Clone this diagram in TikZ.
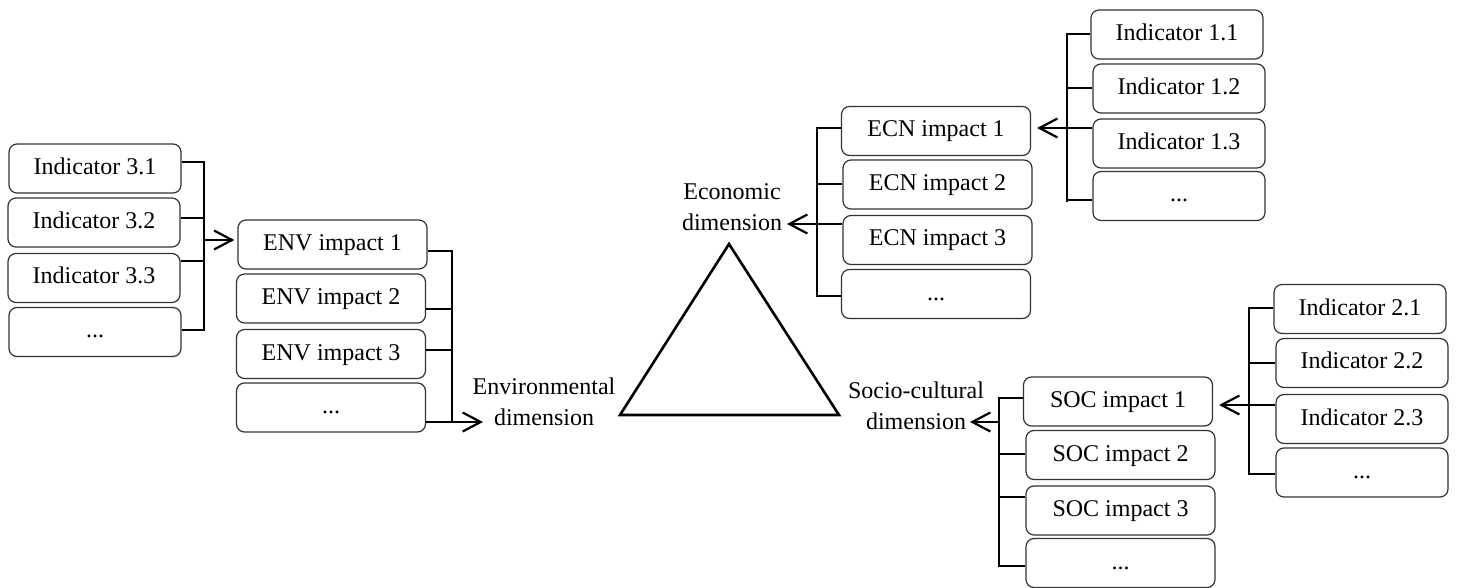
\documentclass[tikz,border=0pt]{standalone}
\usepackage{fontspec}
\setmainfont{Liberation Serif}
\usetikzlibrary{arrows.meta,calc}
\begin{document}
\begin{tikzpicture}[x=0.5pt,y=-0.5pt,
  box/.style={draw=black!80,line width=0.6pt,rounded corners=4pt,minimum height=24.5pt,inner sep=0pt,
    text height=8.5pt,text depth=2.5pt,font=\fontsize{12}{14}\selectfont},
  ind/.style={box,minimum width=86pt},
  imp/.style={box,minimum width=94.5pt},
  conn/.style={line width=1.1pt,black},
  tipconn/.style={conn,-{Straight Barb[length=9pt,width=9.5pt]}},
  dimtext/.style={align=center,font=\fontsize{12}{15.5}\selectfont,inner sep=0pt}]
\useasboundingbox (0,0) rectangle (1457,588);

% Indicators 3.x
\node[ind] (i31) at (95,168.5) {Indicator 3.1};
\node[ind] (i32) at (94,222.5) {Indicator 3.2};
\node[ind] (i33) at (94,278) {Indicator 3.3};
\node[ind] (i3d) at (95,332) {...};

% ENV impacts
\node[imp] (env1) at (332.5,244.5) {ENV impact 1};
\node[imp] (env2) at (331,298.5) {ENV impact 2};
\node[imp] (env3) at (331,354) {ENV impact 3};
\node[imp] (envd) at (331,407.5) {...};

% ECN impacts
\node[imp] (ecn1) at (936,131) {ECN impact 1};
\node[imp] (ecn2) at (937.5,184.5) {ECN impact 2};
\node[imp] (ecn3) at (937.5,240) {ECN impact 3};
\node[imp] (ecnd) at (936,294) {...};

% Indicators 1.x
\node[ind] (i11) at (1177,34.5) {Indicator 1.1};
\node[ind] (i12) at (1179,88.5) {Indicator 1.2};
\node[ind] (i13) at (1179,143.5) {Indicator 1.3};
\node[ind] (i1d) at (1179,196) {...};

% SOC impacts
\node[imp] (soc1) at (1118,401.5) {SOC impact 1};
\node[imp] (soc2) at (1120.5,455) {SOC impact 2};
\node[imp] (soc3) at (1120.5,510.5) {SOC impact 3};
\node[imp] (socd) at (1120.5,563) {...};

% Indicators 2.x
\node[ind] (i21) at (1360,309) {Indicator 2.1};
\node[ind] (i22) at (1362,363) {Indicator 2.2};
\node[ind] (i23) at (1362,419) {Indicator 2.3};
\node[ind] (i2d) at (1362,472.5) {...};

% Dimension labels
\node[dimtext] (envdim) at (544,402) {Environmental\\dimension};
\node[dimtext] (ecndim) at (732,207) {Economic\\dimension};
\node[dimtext] (socdim) at (916,406) {Socio-cultural\\dimension};

% Triangle
\draw[line width=1.3pt,line join=miter] (729,244) -- (620,415) -- (839,415) -- cycle;

% Indicators 3.x -> ENV impact 1
\coordinate (b3) at (204,240);
\draw[conn] (i31.east |- 0,162) -| (b3 |- 0,330) -- (i3d.east |- 0,330);
\draw[conn] (i32.east |- 0,218) -- (b3 |- 0,218);
\draw[conn] (i33.east |- 0,261) -- (b3 |- 0,261);
\draw[tipconn] (b3) -- ($(env1.west |- b3)+(-3,0)$);

% ENV impacts -> Environmental dimension
\coordinate (be) at (452,422);
\coordinate (et) at (483,422);
\draw[conn] (env1.east |- 0,251) -| (be);
\draw[conn] (env2.east |- 0,309) -- (be |- 0,309);
\draw[conn] (env3.east |- 0,350) -- (be |- 0,350);
\draw[tipconn] (envd.east |- be) -- (et);

% ECN impacts -> Economic dimension
\coordinate (bc) at (817,224);
\coordinate (ct) at (787,224);
\draw[conn] (ecn1.west |- 0,128) -| (bc |- 0,296) -- (ecnd.west |- 0,296);
\draw[conn] (ecn2.west |- 0,184) -- (bc |- 0,184);
\draw[tipconn] (ecn3.west |- bc) -- (ct);

% Indicators 1.x -> ECN impact 1
\coordinate (b1) at (1067,128);
\draw[conn] (i11.west |- 0,34) -| (b1 |- 0,202);
\draw[conn] (i1d.west |- 0,200) -- (b1 |- 0,200);
\draw[conn] (i12.west |- 0,88) -- (b1 |- 0,88);
\draw[tipconn] (i13.west |- b1) -- ($(ecn1.east |- b1)+(6,0)$);

% SOC impacts -> Socio-cultural dimension
\coordinate (bs) at (999,422);
\coordinate (st) at (970,422);
\draw[conn] (soc1.west |- 0,398) -| (bs |- 0,566) -- (socd.west |- 0,566);
\draw[conn] (soc2.west |- 0,454) -- (bs |- 0,454);
\draw[conn] (soc3.west |- 0,497) -- (bs |- 0,497);
\draw[tipconn] (bs) -- (st);

% Indicators 2.x -> SOC impact 1
\coordinate (b2) at (1249,405);
\draw[conn] (i21.west |- 0,308) -| (b2 |- 0,474) -- (i2d.west |- 0,474);
\draw[conn] (i22.west |- 0,363) -- (b2 |- 0,363);
\draw[tipconn] (i23.west |- b2) -- ($(soc1.east |- b2)+(6,0)$);
\end{tikzpicture}
\end{document}
